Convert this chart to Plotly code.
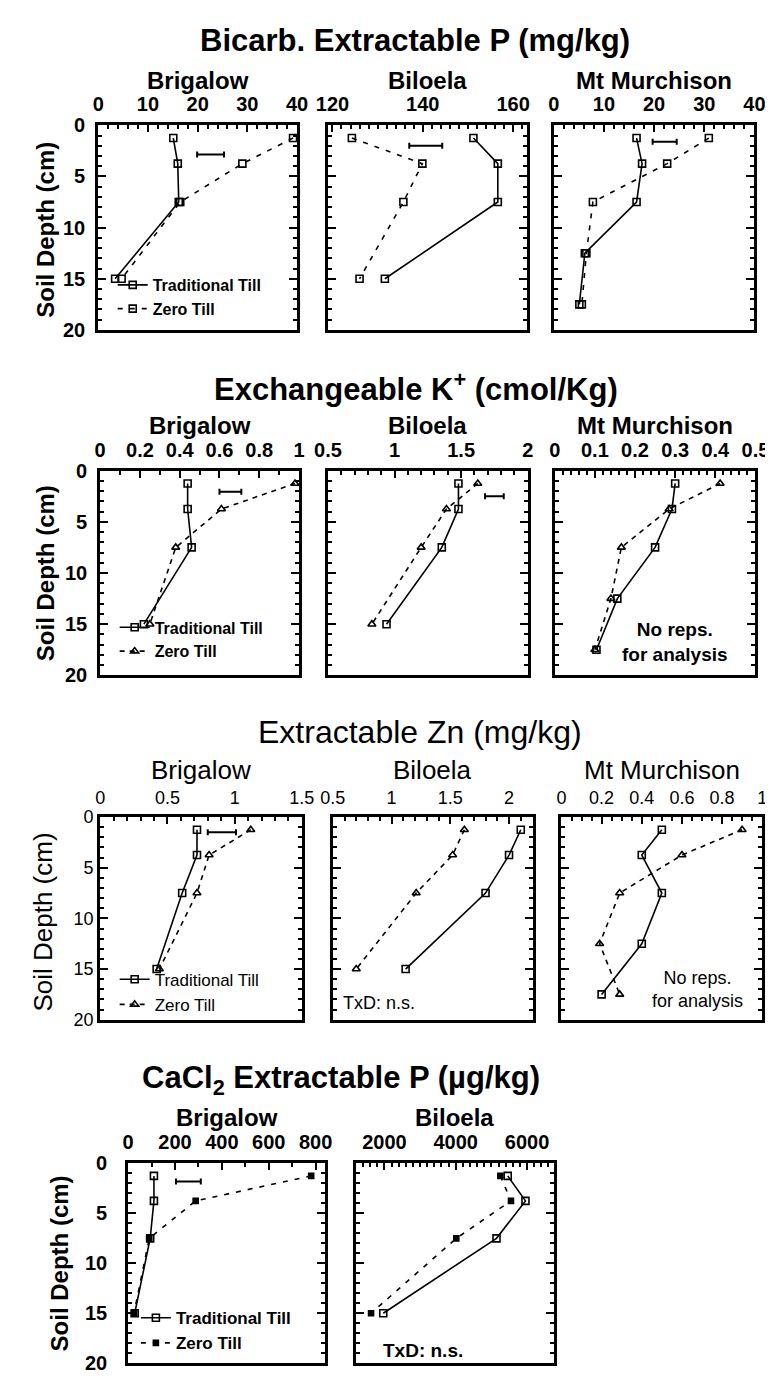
import plotly.graph_objects as go

W, H = 773, 1377

# ---------------- data ----------------
depth_4 = [1.25, 3.75, 7.5, 15]          # Brigalow / Biloela sampling depths (cm)
depth_5 = [1.25, 3.75, 7.5, 12.5, 17.5]  # Mt Murchison sampling depths (cm)

# Bicarb. extractable P (mg/kg)
p_brig_tt = [15.1, 16.0, 16.2, 3.4]
p_brig_zt = [39.2, 29.0, 16.5, 4.7]
p_bil_tt = [151.2, 156.6, 156.6, 131.6]
p_bil_zt = [124.3, 139.9, 135.7, 126.0]
p_mm_tt = [16.5, 17.6, 16.5, 6.2, 5.1]
p_mm_zt = [30.9, 22.6, 7.8, 6.5, 5.6]

# Exchangeable K+ (cmol/kg)
k_brig_tt = [0.44, 0.44, 0.46, 0.22]
k_brig_zt = [0.98, 0.61, 0.38, 0.25]
k_bil_tt = [1.48, 1.48, 1.355, 0.94]
k_bil_zt = [1.625, 1.39, 1.20, 0.83]
k_mm_tt = [0.30, 0.292, 0.25, 0.156, 0.104]
k_mm_zt = [0.412, 0.285, 0.166, 0.14, 0.10]

# Extractable Zn (mg/kg)
zn_brig_tt = [0.72, 0.72, 0.61, 0.42]
zn_brig_zt = [1.12, 0.81, 0.72, 0.44]
zn_bil_tt = [2.10, 2.00, 1.80, 1.12]
zn_bil_zt = [1.62, 1.52, 1.21, 0.70]
zn_mm_tt = [0.50, 0.40, 0.50, 0.40, 0.20]
zn_mm_zt = [0.90, 0.60, 0.29, 0.19, 0.29]

# CaCl2 extractable P (ug/kg)
ca_brig_tt = [110, 110, 94, 28]
ca_brig_zt = [781, 288, 90, 25]
ca_bil_tt = [5459, 5956, 5144, 1967]
ca_bil_zt = [5252, 5550, 4016, 1625]

# LSD bars: value, left end, depth
lsd_p = [5.4, 7.3, 4.8]
lsd_p_left = [19.9, 137.0, 19.7]
lsd_p_depth = [2.85, 2.0, 1.6]
lsd_k = [0.11, 0.14]
lsd_k_left = [0.60, 1.68]
lsd_k_depth = [2.05, 2.5]
lsd_zn = [0.21]
lsd_zn_left = [0.80]
lsd_zn_depth = [1.5]
lsd_ca = [106]
lsd_ca_left = [204]
lsd_ca_depth = [1.8]

sites = ["Brigalow", "Biloela", "Mt Murchison"]
row_titles = ["Bicarb. Extractable P (mg/kg)",
              "Exchangeable K<sup>+</sup> (cmol/Kg)",
              "Extractable Zn (mg/kg)",
              "CaCl<sub>2</sub> Extractable P (µg/kg)"]
legend_names = ["Traditional Till", "Zero Till"]

# ---------------- styling ----------------
NARROW = "Liberation Sans Narrow, Liberation Sans, Arial, sans-serif"
WIDE = "Liberation Sans, Arial, sans-serif"

def f_bold(size, fam=NARROW):
    return dict(family=fam, size=size, color="black", weight="bold")

def f_reg(size):
    return dict(family=WIDE, size=size, color="black", weight="normal")

rows = {
    1: dict(ypx=(108, 316), tick=f_bold(20), sub=f_bold(24, WIDE), title=f_bold(31, WIDE),
            ytitle=f_bold(24, WIDE), title_y=22, sub_y=62, ytitle_x=24, ytitle_y=214, ystand=6,
            leg_x=94, leg_y=253, leg_font=f_bold(16)),
    2: dict(ypx=(459, 667), tick=f_bold(20), sub=f_bold(24, WIDE), title=f_bold(31, WIDE),
            ytitle=f_bold(24, WIDE), title_y=374, sub_y=413, ytitle_x=24, ytitle_y=563, ystand=6,
            leg_x=96, leg_y=601, leg_font=f_bold(16)),
    3: dict(ypx=(811, 1017), tick=f_reg(18), sub=f_reg(26), title=f_reg(32),
            ytitle=f_reg(26), title_y=725, sub_y=763, ytitle_x=22, ytitle_y=918, ystand=0,
            leg_x=96, leg_y=958, leg_font=f_reg(17)),
    4: dict(ypx=(1163, 1366), tick=f_bold(20), sub=f_bold(24, WIDE), title=f_bold(31, WIDE),
            ytitle=f_bold(24, WIDE), title_y=1078, sub_y=1116, ytitle_x=39, ytitle_y=1265, ystand=14,
            leg_x=118, leg_y=1302, leg_font=f_bold(17)),
}

panels = [
    dict(row=1, site=0, tt=p_brig_tt, zt=p_brig_zt, d=depth_4, xpx=(79, 285), rng=[0, 40], dt=10, mn=2, zsym="square-open", leg="legend"),
    dict(row=1, site=1, tt=p_bil_tt, zt=p_bil_zt, d=depth_4, xpx=(317, 523), rng=[119, 163], dt=20, mn=2, zsym="square-open"),
    dict(row=1, site=2, tt=p_mm_tt, zt=p_mm_zt, d=depth_5, xpx=(551, 759), rng=[0, 40], dt=10, mn=2, zsym="square-open"),
    dict(row=2, site=0, tt=k_brig_tt, zt=k_brig_zt, d=depth_4, xpx=(81, 287), rng=[0, 1], dt=0.2, mn=0.1, zsym="triangle-up-open", leg="legend2"),
    dict(row=2, site=1, tt=k_bil_tt, zt=k_bil_zt, d=depth_4, xpx=(317, 524), rng=[0.5, 2], dt=0.5, mn=0.1, zsym="triangle-up-open"),
    dict(row=2, site=2, tt=k_mm_tt, zt=k_mm_zt, d=depth_5, xpx=(552, 760), rng=[0, 0.5], dt=0.1, mn=0.02, zsym="triangle-up-open"),
    dict(row=3, site=0, tt=zn_brig_tt, zt=zn_brig_zt, d=depth_4, xpx=(81, 290), rng=[0, 1.5], dt=0.5, mn=0.1, zsym="triangle-up-open", leg="legend3"),
    dict(row=3, site=1, tt=zn_bil_tt, zt=zn_bil_zt, d=depth_4, xpx=(322, 529), rng=[0.5, 2.2], dt=0.5, mn=0.1, zsym="triangle-up-open"),
    dict(row=3, site=2, tt=zn_mm_tt, zt=zn_mm_zt, d=depth_5, xpx=(559, 767), rng=[0, 1], dt=0.2, mn=0.05, zsym="triangle-up-open"),
    dict(row=4, site=0, tt=ca_brig_tt, zt=ca_brig_zt, d=depth_4, xpx=(110, 314), rng=[0, 840], dt=200, mn=100, zsym="square", leg="legend4"),
    dict(row=4, site=1, tt=ca_bil_tt, zt=ca_bil_zt, d=depth_4, xpx=(346, 551), rng=[1200, 6750], dt=2000, mn=200, zsym="square"),
]

lsd_sets = [
    (1, lsd_p, lsd_p_left, lsd_p_depth),
    (4, lsd_k, lsd_k_left, lsd_k_depth),
    (7, lsd_zn, lsd_zn_left, lsd_zn_depth),
    (10, lsd_ca, lsd_ca_left, lsd_ca_depth),
]

fig = go.Figure()
layout = dict(width=W, height=H, margin=dict(l=0, r=0, t=0, b=0),
              paper_bgcolor="white", plot_bgcolor="white", showlegend=True)
annotations = []

def ax_names(i):
    return ("x" if i == 1 else f"x{i}", "y" if i == 1 else f"y{i}")

for i, p in enumerate(panels, start=1):
    xa, ya = ax_names(i)
    r = rows[p["row"]]
    leg = p.get("leg")
    dash = "5px,7px" if p["row"] in (1, 4) else "5px,5px"
    fig.add_trace(go.Scatter(
        x=p["tt"], y=p["d"], xaxis=xa, yaxis=ya, mode="lines+markers",
        name=legend_names[0], showlegend=leg is not None, legend=leg or "legend",
        line=dict(color="black", width=1.6),
        marker=dict(symbol="square-open", size=7, color="black", line=dict(width=1.6, color="black"))))
    zsize = 5 if p["zsym"] == "square" else 7
    fig.add_trace(go.Scatter(
        x=p["zt"], y=p["d"], xaxis=xa, yaxis=ya, mode="lines+markers",
        name=legend_names[1], showlegend=leg is not None, legend=leg or "legend",
        line=dict(color="black", width=1.6, dash=dash),
        marker=dict(symbol=p["zsym"], size=zsize, color="black", line=dict(width=1.6, color="black"))))

    top, bot = r["ypx"]
    x0, x1 = p["xpx"]
    xkey = "xaxis" if i == 1 else f"xaxis{i}"
    ykey = "yaxis" if i == 1 else f"yaxis{i}"
    layout[xkey] = dict(
        domain=[x0 / W, x1 / W], anchor=ya, side="top", range=p["rng"],
        tick0=0, dtick=p["dt"], ticks="inside", ticklen=7, tickwidth=2, tickcolor="black",
        minor=dict(ticks="inside", dtick=p["mn"], tick0=0, ticklen=4, tickwidth=1.5, tickcolor="black"),
        showline=True, linewidth=3, linecolor="black", mirror=True,
        showgrid=False, zeroline=False, tickfont=r["tick"], ticklabelstandoff=3)
    layout[ykey] = dict(
        domain=[1 - bot / H, 1 - top / H], anchor=xa, range=[20, 0],
        tick0=0, dtick=5, ticks="inside", ticklen=8, tickwidth=2, tickcolor="black",
        minor=dict(ticks="inside", dtick=1, ticklen=4, tickwidth=1.5, tickcolor="black"),
        showline=True, linewidth=3, linecolor="black", mirror="ticks",
        showgrid=False, zeroline=False, tickfont=r["tick"],
        showticklabels=(p["site"] == 0), ticklabelstandoff=r["ystand"])
    # site subtitle
    annotations.append(dict(text=sites[p["site"]], xref="paper", yref="paper",
                            x=(x0 + x1) / 2 / W, y=1 - r["sub_y"] / H,
                            xanchor="center", yanchor="middle", showarrow=False, font=r["sub"]))

# LSD bars
for first, vals, lefts, depths in lsd_sets:
    for k, (v, lft, dep) in enumerate(zip(vals, lefts, depths)):
        xa, ya = ax_names(first + k)
        fig.add_trace(go.Scatter(
            x=[lft + v / 2], y=[dep], xaxis=xa, yaxis=ya, mode="markers", showlegend=False,
            marker=dict(size=1, color="rgba(0,0,0,0)"),
            error_x=dict(type="data", array=[v / 2], symmetric=True, color="black",
                         thickness=2, width=3)))

# row titles, y titles, legends
for rn, r in rows.items():
    row_panels = [p for p in panels if p["row"] == rn]
    cx = (row_panels[0]["xpx"][0] + row_panels[-1]["xpx"][1]) / 2 - (12 if rn < 4 else 0)
    annotations.append(dict(text=row_titles[rn - 1], xref="paper", yref="paper",
                            x=cx / W, y=1 - r["title_y"] / H, xanchor="center", yanchor="middle",
                            showarrow=False, font=r["title"]))
    annotations.append(dict(text="Soil Depth (cm)", xref="paper", yref="paper", textangle=-90,
                            x=r["ytitle_x"] / W, y=1 - r["ytitle_y"] / H, xanchor="center",
                            yanchor="middle", showarrow=False, font=r["ytitle"]))
    lkey = "legend" if rn == 1 else f"legend{rn}"
    layout[lkey] = dict(x=r["leg_x"] / W, y=1 - r["leg_y"] / H, xanchor="left", yanchor="top",
                        bgcolor="rgba(0,0,0,0)", borderwidth=0, font=r["leg_font"],
                        tracegroupgap=0, itemwidth=30)

# panel notes
annotations.append(dict(text="No reps.<br>for analysis", xref="x6", yref="y6", x=0.30, y=16.7,
                        xanchor="center", yanchor="middle", showarrow=False, align="center",
                        font=f_bold(19)))
annotations.append(dict(text="No reps.<br>for analysis", xref="x9", yref="y9", x=0.68, y=17.0,
                        xanchor="center", yanchor="middle", showarrow=False, align="center",
                        font=f_reg(18)))
annotations.append(dict(text="TxD: n.s.", xref="x8", yref="y8", x=0.57, y=18.3,
                        xanchor="left", yanchor="middle", showarrow=False, font=f_reg(18)))
annotations.append(dict(text="TxD: n.s.", xref="x11", yref="y11", x=1900, y=18.75,
                        xanchor="left", yanchor="middle", showarrow=False, font=f_bold(19)))

layout["annotations"] = annotations
fig.update_layout(**layout)
fig.write_html("out.html")
